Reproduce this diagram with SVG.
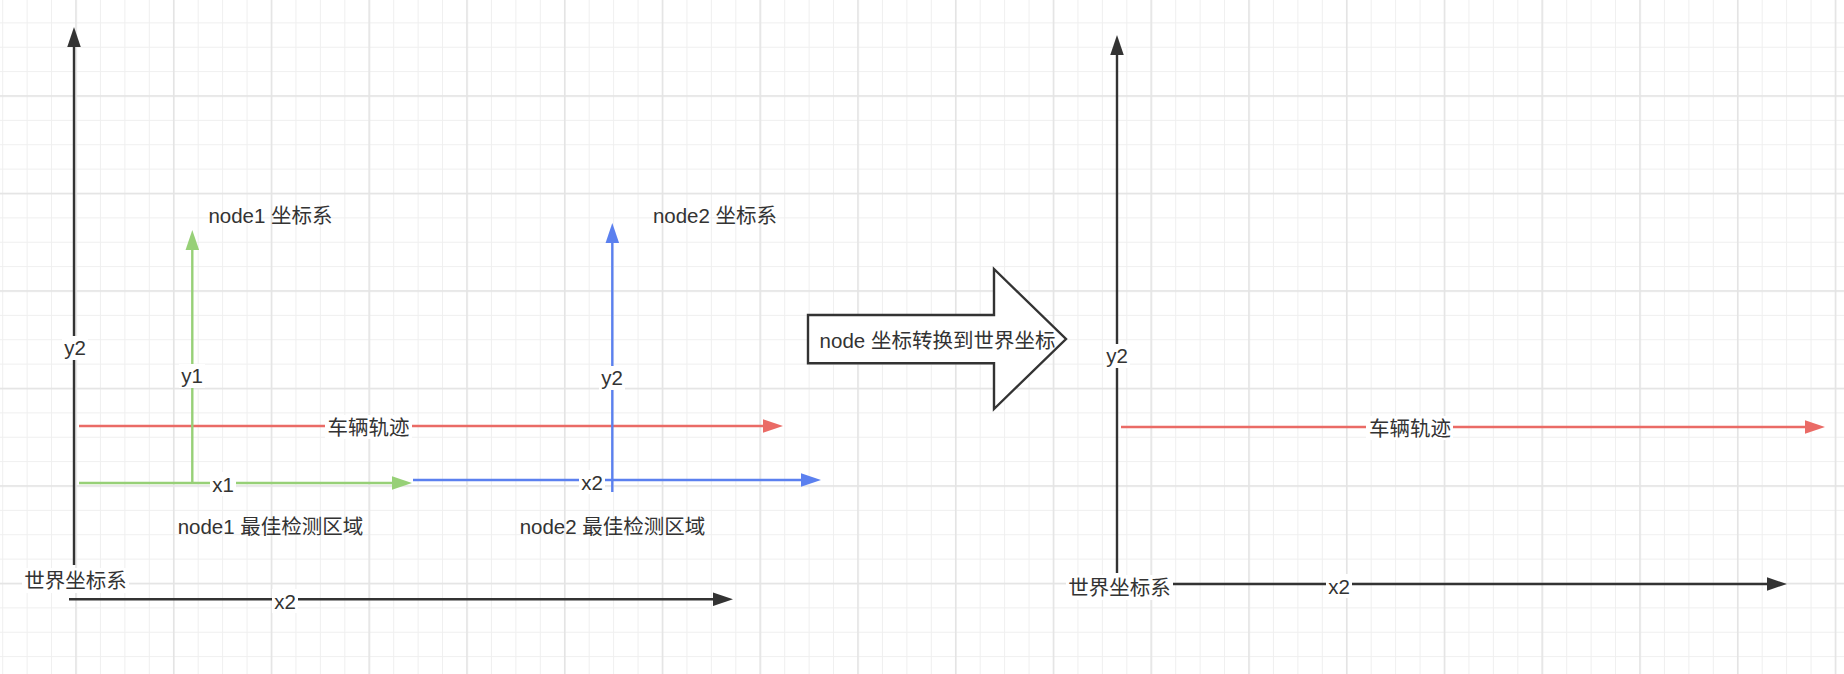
<svg xmlns="http://www.w3.org/2000/svg" width="1844" height="674" viewBox="0 0 1844 674">
<style>
text{font-family:"Liberation Sans","Noto Sans CJK SC",sans-serif;font-size:20.5px;fill:#333333;text-anchor:middle;dominant-baseline:central}
.k{stroke:#333333;stroke-width:2.4;fill:none}
.r{stroke:#EA6B66;stroke-width:2.4;fill:none}
.g{stroke:#97D077;stroke-width:2.4;fill:none}
.b{stroke:#5B80EF;stroke-width:2.4;fill:none}
.bg{fill:#ffffff}
</style>
<defs>
<pattern id="minor" patternUnits="userSpaceOnUse" x="75.5" y="95.5" width="24.4375" height="24.375">
<rect x="0" y="0" width="1" height="24.375" fill="#efefef"/>
<rect x="0" y="0" width="24.4375" height="1" fill="#efefef"/>
</pattern>
<pattern id="major" patternUnits="userSpaceOnUse" x="75.2" y="95.2" width="97.75" height="97.5">
<rect x="0" y="0" width="1.6" height="97.5" fill="#e4e4e4"/>
<rect x="0" y="0" width="97.75" height="1.6" fill="#e4e4e4"/>
</pattern>
<marker id="mk" markerUnits="userSpaceOnUse" markerWidth="22" markerHeight="14" viewBox="0 0 22 14" refX="2" refY="7" orient="auto"><path d="M0,0.25 L20,7 L0,13.75 z" fill="#333333"/></marker>
<marker id="mr" markerUnits="userSpaceOnUse" markerWidth="22" markerHeight="14" viewBox="0 0 22 14" refX="2" refY="7" orient="auto"><path d="M0,0.25 L20,7 L0,13.75 z" fill="#EA6B66"/></marker>
<marker id="mg" markerUnits="userSpaceOnUse" markerWidth="22" markerHeight="14" viewBox="0 0 22 14" refX="2" refY="7" orient="auto"><path d="M0,0.25 L20,7 L0,13.75 z" fill="#97D077"/></marker>
<marker id="mb" markerUnits="userSpaceOnUse" markerWidth="22" markerHeight="14" viewBox="0 0 22 14" refX="2" refY="7" orient="auto"><path d="M0,0.25 L20,7 L0,13.75 z" fill="#5B80EF"/></marker>
</defs>
<rect width="1844" height="674" fill="#ffffff"/>
<rect width="1844" height="674" fill="url(#minor)"/>
<rect width="1844" height="674" fill="url(#major)"/>

<g id="connectors">
<g id="world-y-left"><line class="k" x1="74" y1="565" x2="74" y2="45" marker-end="url(#mk)"/><rect class="bg" x="62" y="336" width="26" height="24"/><text x="75" y="347">y2</text></g>
<g id="world-x-left"><line class="k" x1="69" y1="599.3" x2="715" y2="599.3" marker-end="url(#mk)"/><rect class="bg" x="272" y="589" width="26" height="24"/><text x="285" y="601">x2</text></g>
<g id="track-left"><line class="r" x1="79" y1="426" x2="765" y2="426" marker-end="url(#mr)"/><rect class="bg" x="325" y="415" width="87" height="24"/><text x="368.5" y="427">车辆轨迹</text></g>
<g id="node1-x"><line class="g" x1="79" y1="483" x2="394" y2="483" marker-end="url(#mg)"/><rect class="bg" x="210" y="472" width="26" height="24"/><text x="223" y="484">x1</text></g>
<g id="node1-y"><line class="g" x1="192.3" y1="484" x2="192.3" y2="248" marker-end="url(#mg)"/><rect class="bg" x="179" y="364" width="26" height="24"/><text x="192" y="375">y1</text></g>
<g id="node2-x"><line class="b" x1="413" y1="480" x2="803" y2="480" marker-end="url(#mb)"/><rect class="bg" x="579" y="470" width="26" height="24"/><text x="592" y="482">x2</text></g>
<g id="node2-y"><line class="b" x1="612.3" y1="492" x2="612.3" y2="241" marker-end="url(#mb)"/><rect class="bg" x="599" y="366" width="26" height="24"/><text x="612" y="377">y2</text></g>
<g id="world-y-right"><line class="k" x1="1117" y1="573" x2="1117" y2="53" marker-end="url(#mk)"/><rect class="bg" x="1104" y="344" width="26" height="24"/><text x="1117" y="355">y2</text></g>
<g id="track-right"><line class="r" x1="1121" y1="427" x2="1807" y2="427" marker-end="url(#mr)"/><rect class="bg" x="1366" y="416" width="87" height="24"/><text x="1410" y="428">车辆轨迹</text></g>
<g id="world-x-right"><line class="k" x1="1118" y1="584" x2="1769" y2="584" marker-end="url(#mk)"/><rect class="bg" x="1326" y="574" width="26" height="24"/><text x="1339" y="586">x2</text></g>
</g>

<g id="label-node1-frame"><text x="270.5" y="215.5">node1 坐标系</text></g>
<g id="label-node2-frame"><text x="715" y="215.5">node2 坐标系</text></g>
<g id="label-node1-area"><text x="270.5" y="526">node1 最佳检测区域</text></g>
<g id="label-node2-area"><text x="612.5" y="526.5">node2 最佳检测区域</text></g>
<g id="label-world-left"><rect class="bg" x="22" y="568" width="107" height="25"/><text x="75.5" y="580.5">世界坐标系</text></g>
<g id="label-world-right"><rect class="bg" x="1066" y="575" width="107" height="25"/><text x="1119.5" y="587.5">世界坐标系</text></g>
<g id="transform-arrow">
<polygon points="808,315 994,315 994,269 1066,339 994,409 994,363.3 808,363.3" fill="#ffffff" stroke="#333333" stroke-width="2.4" stroke-linejoin="miter"/>
<text x="937.5" y="340">node 坐标转换到世界坐标</text>
</g>
</svg>
